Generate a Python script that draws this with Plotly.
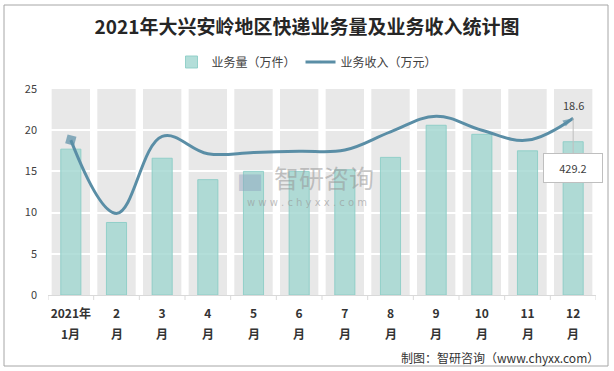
import plotly.graph_objects as go

month_top = ["2021年", "2", "3", "4", "5", "6", "7", "8", "9", "10", "11", "12"]
month_bottom = ["1月", "月", "月", "月", "月", "月", "月", "月", "月", "月", "月", "月"]
volume = [17.7, 8.8, 16.6, 14.0, 15.0, 15.0, 15.2, 16.7, 20.6, 19.5, 17.5, 18.6]
revenue = [376, 198, 385, 343, 346, 349, 352, 396, 434, 400, 376, 429.2]
y_ticks = [0, 5, 10, 15, 20, 25]

BAR = "rgba(160,214,208,0.8)"
LINE = "#5a8ea6"
FONT = "Noto Sans CJK SC"

# plot area in pixels
L, R, T, B = 48, 596, 89, 295
PW, PH = R - L, B - T


def px(x):
    return (x - L) / PW


def py(y):
    return (B - y) / PH


fig = go.Figure()
n = len(month_top)
xs = list(range(n))

# grey background columns (one per category)
for i in xs:
    fig.add_shape(type="rect", xref="x", yref="y", x0=i - 0.42, x1=i + 0.42,
                  y0=0, y1=max(y_ticks), fillcolor="#e8e8e8", line_width=0, layer="below")

fig.add_trace(go.Bar(
    x=xs, y=volume, name="业务量（万件）",
    marker=dict(color=BAR, line=dict(color="rgba(140,205,198,0.9)", width=1)),
    width=0.44, hoverinfo="skip"))

symbols = ["diamond"] + ["circle"] * (n - 2) + ["arrow"]
sizes = [10] + [0] * (n - 2) + [11]
angles = [-30] + [0] * (n - 2) + [60]
fig.add_trace(go.Scatter(
    x=xs, y=revenue, name="业务收入（万元）", yaxis="y2",
    mode="lines+markers", line=dict(color=LINE, width=3, shape="spline", smoothing=1.1),
    marker=dict(symbol=symbols, size=sizes, color=LINE, angle=angles, angleref="up",
                line_width=0)))

# second line of the x tick labels
for i, t in enumerate(month_bottom):
    fig.add_annotation(x=i, y=py(333), xref="x", yref="paper", text=f"<b>{t}</b>",
                       showarrow=False, yanchor="middle",
                       font=dict(size=12, color="#333333", family=FONT))

fig.add_annotation(x=n - 1, y=max(y_ticks), xref="x", yref="y", text=f"{volume[-1]}",
                   showarrow=False, yanchor="top", yshift=-6,
                   font=dict(size=11, color="#404040", family=FONT))

fig.add_annotation(x=n - 1, y=revenue[-1], xref="x", yref="y2", text=f"{revenue[-1]}",
                   showarrow=True, arrowhead=0, arrowwidth=1, arrowcolor="#bfbfbf",
                   ax=0, ay=50, bgcolor="white", bordercolor="#bfbfbf", borderwidth=1,
                   borderpad=6, width=46, font=dict(size=11, color="#404040", family=FONT))

# watermark
fig.add_annotation(x=px(250), y=py(178), xref="paper", yref="paper", text="<b>▆</b>",
                   showarrow=False, font=dict(size=22, color="rgba(140,160,190,0.45)", family=FONT))
fig.add_annotation(x=px(324), y=py(177), xref="paper", yref="paper", text="智研咨询",
                   showarrow=False, font=dict(size=25, color="rgba(150,150,150,0.55)", family=FONT))
fig.add_annotation(x=px(307), y=py(202), xref="paper", yref="paper", text="w w w . c h y x x . c o m",
                   showarrow=False, font=dict(size=10, color="rgba(150,150,150,0.6)", family="DejaVu Sans"))

fig.add_annotation(x=px(601), y=py(357), xref="paper", yref="paper",
                   text="制图：智研咨询（www.chyxx.com）", showarrow=False, xanchor="right", yanchor="middle",
                   font=dict(size=12, color="#333333", family=FONT))

# boundary tick marks at category edges
for i in range(n + 1):
    fig.add_shape(type="line", xref="x", yref="paper", x0=i - 0.5, x1=i - 0.5, y0=0, y1=py(300),
                  line=dict(color="#d9d9d9", width=1))

# chart border
fig.add_shape(type="rect", xref="paper", yref="paper",
              x0=px(4), x1=px(608), y0=py(366), y1=py(5),
              line=dict(color="#a6a6a6", width=1), fillcolor="rgba(0,0,0,0)")

fig.update_layout(
    width=614, height=371,
    margin=dict(l=L, r=614 - R, t=T, b=371 - B, autoexpand=False),
    paper_bgcolor="white", plot_bgcolor="white",
    barmode="overlay", showlegend=True,
    title=dict(text="<b>2021年大兴安岭地区快递业务量及业务收入统计图</b>", x=0.5, xanchor="center",
               xref="container", y=1 - 27 / 371, yref="container", yanchor="middle",
               font=dict(size=19, color="#262626", family=FONT)),
    legend=dict(orientation="h", x=0.5, xanchor="center", xref="container",
                y=1 - 62 / 371, yref="container", yanchor="middle",
                font=dict(size=12, color="#404040", family=FONT),
                bgcolor="rgba(0,0,0,0)"),
    xaxis=dict(tickmode="array", tickvals=xs, ticktext=[f"<b>{t}</b>" for t in month_top],
               range=[-0.5, n - 0.5], showgrid=False, showline=True, linecolor="#d9d9d9",
               ticks="", tickfont=dict(size=12, color="#333333", family=FONT),
               zeroline=False, automargin=False, ticklabelstandoff=8),
    yaxis=dict(range=[0, 25], tickvals=y_ticks, showgrid=True, gridcolor="white", gridwidth=1.5,
               zeroline=False, showline=False, tickfont=dict(size=11, color="#404040", family=FONT),
               ticks="", ticklabelstandoff=10, automargin=False),
    yaxis2=dict(range=[0, 500], overlaying="y", side="right", visible=False),
)

fig.write_html("out.html", post_script="document.body.style.margin='0';",
               config={"displayModeBar": False})
